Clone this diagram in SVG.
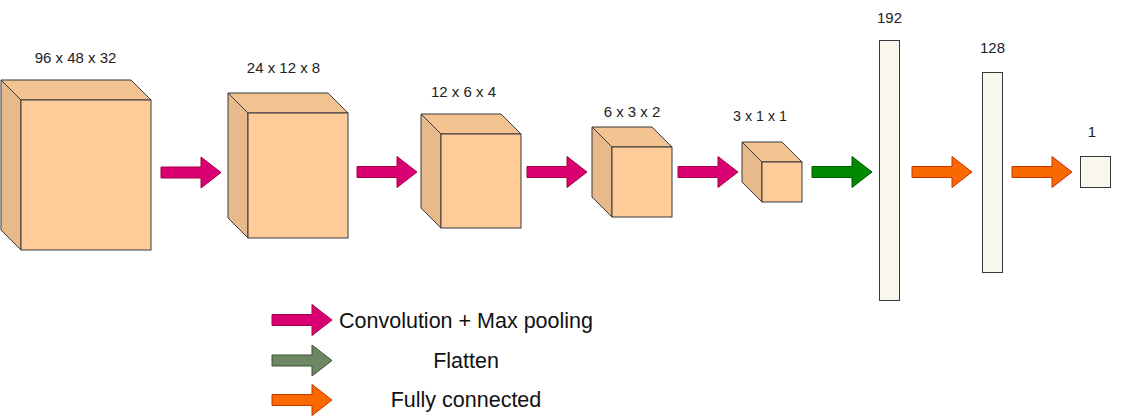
<svg xmlns="http://www.w3.org/2000/svg" xmlns:xlink="http://www.w3.org/1999/xlink" width="1122" height="420" viewBox="0 0 1122 420">
<style>
.front{fill:#FFCC99;stroke:#36393D;stroke-width:1}
.top{fill:#F2C291;stroke:#36393D;stroke-width:1}
.side{fill:#E8B98A;stroke:#36393D;stroke-width:1}
.bar{fill:#F9F7ED;stroke:#36393D;stroke-width:1}
.lbl{font-family:"Liberation Sans",Arial,sans-serif;font-size:15px;fill:#222;text-anchor:middle}
.leg{font-family:"Liberation Sans",Arial,sans-serif;font-size:21.5px;fill:#111;text-anchor:middle}
.pink{fill:#D80073;stroke:#A50040;stroke-width:1}
.green{fill:#008A00;stroke:#005700;stroke-width:1}
.gray{fill:#6D8764;stroke:#3A5431;stroke-width:1}
.orange{fill:#FA6800;stroke:#C73500;stroke-width:1}
</style>
<defs>
<path id="arr" d="M0,-5.5 H40 V-15.5 L60,0 L40,15.5 V5.5 H0 Z"/>
</defs>
<rect width="1122" height="420" fill="#FFFFFF"/>

<g id="cube1">
<path class="top" d="M1,80 H131 L151,100 H21 Z"/>
<path class="side" d="M1,80 L21,100 V250 L1,230 Z"/>
<rect class="front" x="21" y="100" width="130" height="150"/>
<text class="lbl" x="75.5" y="63">96 x 48 x 32</text>
</g>
<g id="cube2">
<path class="top" d="M228,93 H328 L348,113 H248 Z"/>
<path class="side" d="M228,93 L248,113 V238 L228,218 Z"/>
<rect class="front" x="248" y="113" width="100" height="125"/>
<text class="lbl" x="283.5" y="73">24 x 12 x 8</text>
</g>
<g id="cube3">
<path class="top" d="M421,114 H501 L521,134 H441 Z"/>
<path class="side" d="M421,114 L441,134 V228 L421,208 Z"/>
<rect class="front" x="441" y="134" width="80" height="94"/>
<text class="lbl" x="463.5" y="96.5">12 x 6 x 4</text>
</g>
<g id="cube4">
<path class="top" d="M592,127 H652 L672,147 H612 Z"/>
<path class="side" d="M592,127 L612,147 V217 L592,197 Z"/>
<rect class="front" x="612" y="147" width="60" height="70"/>
<text class="lbl" x="632" y="116.5">6 x 3 x 2</text>
</g>
<g id="cube5">
<path class="top" d="M742,142 H782 L802,162 H762 Z"/>
<path class="side" d="M742,142 L762,162 V202 L742,182 Z"/>
<rect class="front" x="762" y="162" width="40" height="40"/>
<text class="lbl" x="760" y="120.5" style="font-size:14.3px">3 x 1 x 1</text>
</g>
<g id="dense192">
<rect class="bar" x="879.5" y="40.5" width="20" height="260"/>
<text class="lbl" x="889.5" y="23">192</text>
</g>
<g id="dense128">
<rect class="bar" x="982.5" y="72.5" width="20" height="200"/>
<text class="lbl" x="992.5" y="53">128</text>
</g>
<g id="output1">
<rect class="bar" x="1080.5" y="156.5" width="30" height="31"/>
<text class="lbl" x="1092" y="137">1</text>
</g>

<g id="connectors">
<use xlink:href="#arr" class="pink" x="161" y="172.5"/>
<use xlink:href="#arr" class="pink" x="357" y="172"/>
<use xlink:href="#arr" class="pink" x="527" y="172"/>
<use xlink:href="#arr" class="pink" x="678" y="172"/>
<use xlink:href="#arr" class="green" x="812" y="172"/>
<use xlink:href="#arr" class="orange" x="912" y="172"/>
<use xlink:href="#arr" class="orange" x="1012" y="172"/>
</g>

<g id="legend">
<use xlink:href="#arr" class="pink" x="272" y="320"/>
<use xlink:href="#arr" class="gray" x="272" y="360.5"/>
<use xlink:href="#arr" class="orange" x="272" y="400"/>
<text class="leg" x="466" y="328">Convolution + Max pooling</text>
<text class="leg" x="466" y="367.5">Flatten</text>
<text class="leg" x="466" y="406.5">Fully connected</text>
</g>
</svg>
